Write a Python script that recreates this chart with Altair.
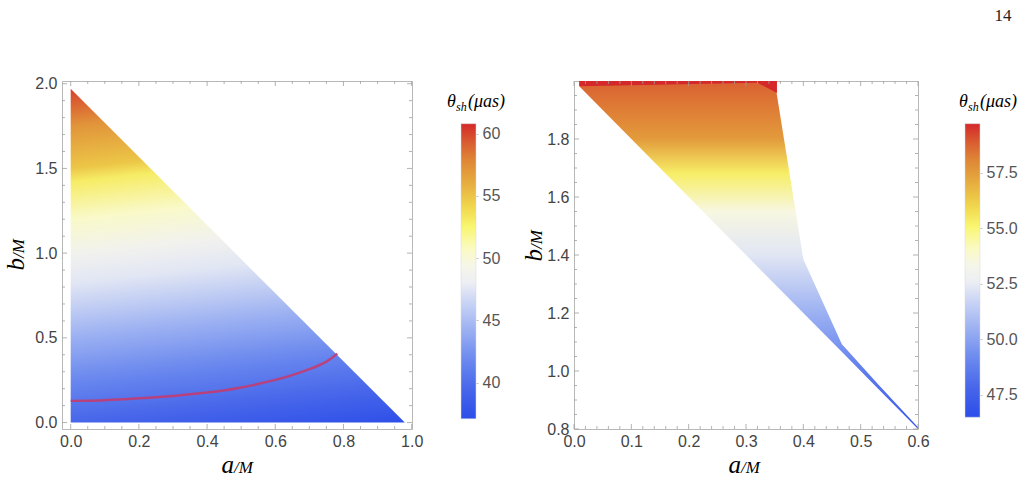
import altair as alt
import pandas as pd

# ---------------- colour map (TemperatureMap-like), fraction -> colour ----------------
CMAP_POS = [0.00, 0.10, 0.20, 0.30, 0.40, 0.46, 0.52, 0.58, 0.65, 0.72, 0.80, 0.88, 0.94, 1.00]
CMAP_COL = ["#2c4de9", "#4766ea", "#6b89ee", "#9bb0f2", "#ccd6f5", "#eceef4", "#f6f6e8",
            "#fafabf", "#f9f670", "#f0d64c", "#e6ac3f", "#de8436", "#d95a30", "#d4282a"]

# ---------------- left panel data ----------------
L_area_a = [0.0, 0.98]
L_area_top = [1.97, 0.0]
L_area_bot = [0.0, 0.0]
# theta read along a = 0 (b -> theta), plus the deeper value at the bottom-right corner
L_grad_b = [1.97, 1.75, 1.5, 1.42, 1.2, 1.0, 0.82, 0.5, 0.25, 0.0]
L_grad_theta = [60.1, 57.2, 54.9, 53.0, 50.5, 48.8, 47.5, 44.2, 41.8, 39.5]
L_corner_theta = 37.3
L_line_a = [0.0, 0.1, 0.2, 0.3, 0.4, 0.5, 0.6, 0.65, 0.7, 0.75, 0.782]
L_line_b = [0.128, 0.132, 0.143, 0.157, 0.177, 0.207, 0.252, 0.28, 0.315, 0.36, 0.407]
L_cbar_range = [37.1, 60.8]
L_cbar_ticks = [40, 45, 50, 55, 60]
L_x_ticks = [0.0, 0.2, 0.4, 0.6, 0.8, 1.0]
L_x_minor = [0.05, 0.1, 0.15, 0.25, 0.3, 0.35, 0.45, 0.5, 0.55, 0.65, 0.7, 0.75, 0.85, 0.9, 0.95]
L_y_ticks = [0.0, 0.5, 1.0, 1.5, 2.0]
L_y_minor = [0.1, 0.2, 0.3, 0.4, 0.6, 0.7, 0.8, 0.9, 1.1, 1.2, 1.3, 1.4, 1.6, 1.7, 1.8, 1.9]

# ---------------- right panel data ----------------
R_area_a = [0.01, 0.35, 0.40, 0.467, 0.53, 0.60]
R_area_top = [2.0, 2.0, 1.385, 1.093, 0.955, 0.806]
R_area_bot = [1.98, 1.30, 1.20, 1.066, 0.94, 0.80]
R_red_a = [0.009, 0.32, 0.354]
R_red_top = [2.0, 2.0, 2.0]
R_red_bot = [1.982, 1.994, 1.959]
R_grad_b = [2.0, 1.8, 1.68, 1.55, 1.4, 1.2, 1.0, 0.8]
R_grad_theta = [58.8, 57.5, 55.3, 53.5, 52.3, 50.5, 48.7, 47.0]
R_cbar_range = [46.5, 59.7]
R_cbar_ticks = [47.5, 50.0, 52.5, 55.0, 57.5]
R_x_ticks = [0.0, 0.1, 0.2, 0.3, 0.4, 0.5, 0.6]
R_x_minor = [0.02, 0.04, 0.06, 0.08, 0.12, 0.14, 0.16, 0.18, 0.22, 0.24, 0.26, 0.28,
             0.32, 0.34, 0.36, 0.38, 0.42, 0.44, 0.46, 0.48, 0.52, 0.54, 0.56, 0.58]
R_y_ticks = [0.8, 1.0, 1.2, 1.4, 1.6, 1.8]
R_y_minor = [0.85, 0.9, 0.95, 1.05, 1.1, 1.15, 1.25, 1.3, 1.35, 1.45, 1.5, 1.55,
             1.65, 1.7, 1.75, 1.85, 1.9, 1.95]

FRAME = "#b8b8b8"
TICKC = "#a0a0a0"
LABELC = "#444444"
SERIF = "Liberation Serif"
SANS = "Liberation Sans"
LBL = 16


def hex2rgb(h):
    h = h.lstrip("#")
    return [int(h[i:i + 2], 16) for i in (0, 2, 4)]


def cmap(f):
    f = min(max(f, 0.0), 1.0)
    for i in range(len(CMAP_POS) - 1):
        if CMAP_POS[i] <= f <= CMAP_POS[i + 1]:
            t = (f - CMAP_POS[i]) / (CMAP_POS[i + 1] - CMAP_POS[i])
            c0, c1 = hex2rgb(CMAP_COL[i]), hex2rgb(CMAP_COL[i + 1])
            return "#" + "".join("%02x" % round(c0[k] + t * (c1[k] - c0[k])) for k in range(3))
    return CMAP_COL[-1]


def area_gradient(bs, thetas, bmax, bmin, crange, tilt=0.0, end_theta=None):
    # gradient axis from the top-left corner of the box, slightly tilted so that the
    # bottom-right corner lands on offset 1 (used for the small left-right variation)
    lo, hi = crange
    if tilt:
        h = (1 + (1 + 4 * (tilt - tilt * tilt)) ** 0.5) / 2
        scale_l = h / (tilt * tilt + h * h)
    else:
        h, scale_l = 1.0, 1.0
    stops = [alt.GradientStop(offset=scale_l * (bmax - b) / (bmax - bmin),
                              color=cmap((th - lo) / (hi - lo)))
             for b, th in zip(bs, thetas)]
    if end_theta is not None:
        stops.append(alt.GradientStop(offset=1.0, color=cmap((end_theta - lo) / (hi - lo))))
    return alt.LinearGradient(gradient="linear", stops=stops, x1=0, y1=0, x2=tilt, y2=h)


def cbar_gradient():
    stops = [alt.GradientStop(offset=p, color=c) for p, c in zip(CMAP_POS, CMAP_COL)]
    return alt.LinearGradient(gradient="linear", stops=stops, x1=0, x2=0, y1=1, y2=0)


ONE = pd.DataFrame({"k": [0]})


def text(t, x, y, size, align="left", angle=0, font=SERIF, style="italic", color="black"):
    kw = dict(text=t, fontSize=size, font=font, align=align, baseline="alphabetic", color=color)
    if style:
        kw["fontStyle"] = style
    if angle:
        kw["angle"] = angle
    return alt.Chart(ONE).mark_text(**kw).encode(x=alt.value(x), y=alt.value(y))


def tick_layers(xsc, ysc, xmaj, xmin, ymaj, ymin, W, H):
    layers = []
    for vals, ln in [(xmaj, 5), (xmin, 3)]:
        base = alt.Chart(pd.DataFrame({"v": vals})).mark_rule(color=TICKC, strokeWidth=0.8)
        xe = alt.X("v:Q", scale=xsc, axis=None)
        layers.append(base.encode(x=xe, y=alt.value(H), y2=alt.value(H - ln)))
        layers.append(base.encode(x=xe, y=alt.value(0), y2=alt.value(ln)))
    for vals, ln in [(ymaj, 5), (ymin, 3)]:
        base = alt.Chart(pd.DataFrame({"v": vals})).mark_rule(color=TICKC, strokeWidth=0.8)
        ye = alt.Y("v:Q", scale=ysc, axis=None)
        layers.append(base.encode(y=ye, x=alt.value(0), x2=alt.value(ln)))
        layers.append(base.encode(y=ye, x=alt.value(W), x2=alt.value(W - ln)))
    return layers


def colorbar(crange, cdomain, cticks, xl, W, fmt):
    df = pd.DataFrame({"lo": [crange[0]], "hi": [crange[1]]})
    return alt.Chart(df).mark_rect(color=cbar_gradient(), stroke="#d8d8d8", strokeWidth=0.5).encode(
        x=alt.value(xl), x2=alt.value(xl + 15),
        y=alt.Y("lo:Q", scale=alt.Scale(domain=cdomain, nice=False, zero=False),
                axis=alt.Axis(orient="right", offset=xl + 15 - W, values=cticks, format=fmt,
                              domain=False, grid=False, tickSize=2, tickColor="#c0c0c0",
                              labelFont=SANS, labelFontSize=LBL, labelColor="#555555",
                              labelPadding=4, title=None)),
        y2="hi:Q",
    )


def cbar_title(x, y):
    return [text("\u03b8", x, y, 18), text("sh", x + 9, y + 4, 12),
            text("(\u03bcas)", x + 21, y, 18)]


def axis_cfg(vals, fmt, pad, orient):
    return alt.Axis(values=vals, format=fmt, domain=False, ticks=False, grid=False, orient=orient,
                    labelFont=SANS, labelFontSize=LBL, labelColor=LABELC, labelPadding=pad,
                    title=None, labelFlush=False, labelOverlap=False)


# ---------------- left panel ----------------
LW, LH = 350, 348
lxs = alt.Scale(domain=[-0.0255, 1.001], nice=False, zero=False)
lys = alt.Scale(domain=[-0.038, 2.016], nice=False, zero=False)
ldf = pd.DataFrame({"a": L_area_a, "top": L_area_top, "bot": L_area_bot})
l_area = alt.Chart(ldf).mark_area(
    color=area_gradient(L_grad_b, L_grad_theta, max(L_area_top), min(L_area_bot), L_cbar_range,
                        tilt=0.12, end_theta=L_corner_theta),
    line=False, opacity=1).encode(
    x=alt.X("a:Q", scale=lxs, axis=axis_cfg(L_x_ticks, ".1f", 4, "bottom")),
    y=alt.Y("top:Q", scale=lys, axis=axis_cfg(L_y_ticks, ".1f", 5, "left")),
    y2="bot:Q")
l_line = alt.Chart(pd.DataFrame({"a": L_line_a, "b": L_line_b})).mark_line(
    color="#c8386a", strokeWidth=2.5, opacity=0.85, interpolate="natural").encode(
    x=alt.X("a:Q", scale=lxs, axis=None), y=alt.Y("b:Q", scale=lys, axis=None))
l_cb = colorbar(L_cbar_range, [36.28, 64.23], L_cbar_ticks, 399, LW, ".0f")
left = alt.layer(
    l_area, l_line,
    *tick_layers(lxs, lys, L_x_ticks, L_x_minor, L_y_ticks, L_y_minor, LW, LH),
    l_cb,
    text("a", 172, 392, 25, align="right"), text("/M", 172, 392, 17),
    text("b", -38, 177, 25, align="right", angle=270), text("/M", -38, 177, 17, angle=270),
    *cbar_title(385, 26),
).resolve_scale(x="independent", y="independent").properties(width=LW, height=LH)

# ---------------- right panel ----------------
RW, RH = 344, 348
rxs = alt.Scale(domain=[0.0, 0.6], nice=False, zero=False)
rys = alt.Scale(domain=[0.8, 2.0], nice=False, zero=False)
rdf = pd.DataFrame({"a": R_area_a, "top": R_area_top, "bot": R_area_bot})
r_area = alt.Chart(rdf).mark_area(
    color=area_gradient(R_grad_b, R_grad_theta, max(R_area_top), min(R_area_bot), R_cbar_range),
    line=False, opacity=1).encode(
    x=alt.X("a:Q", scale=rxs, axis=axis_cfg(R_x_ticks, ".1f", 4, "bottom")),
    y=alt.Y("top:Q", scale=rys, axis=axis_cfg(R_y_ticks, ".1f", 5, "left")),
    y2="bot:Q")
r_red = alt.Chart(pd.DataFrame({"a": R_red_a, "top": R_red_top, "bot": R_red_bot})).mark_area(
    color="#d4282a", line=False, opacity=1).encode(
    x=alt.X("a:Q", scale=rxs, axis=None), y=alt.Y("top:Q", scale=rys, axis=None), y2="bot:Q")
r_cb = colorbar(R_cbar_range, [45.97, 61.62], R_cbar_ticks, 391, RW, ".1f")
right = alt.layer(
    r_area, r_red,
    *tick_layers(rxs, rys, R_x_ticks, R_x_minor, R_y_ticks, R_y_minor, RW, RH),
    r_cb,
    text("a", 167, 392, 25, align="right"), text("/M", 167, 392, 17),
    text("b", -32, 168, 25, align="right", angle=270), text("/M", -32, 168, 17, angle=270),
    *cbar_title(385, 26),
    text("14", 429, -60, 17, align="center", style=None, color="#222222"),
).resolve_scale(x="independent", y="independent").properties(width=RW, height=RH)

chart = alt.hconcat(left, right, spacing=162, bounds="flush").configure_view(
    stroke=FRAME, strokeWidth=1).properties(padding={"left": 3, "top": 6, "right": 5, "bottom": 5})

chart.save("out.html", embed_options={"renderer": "svg", "actions": False})
